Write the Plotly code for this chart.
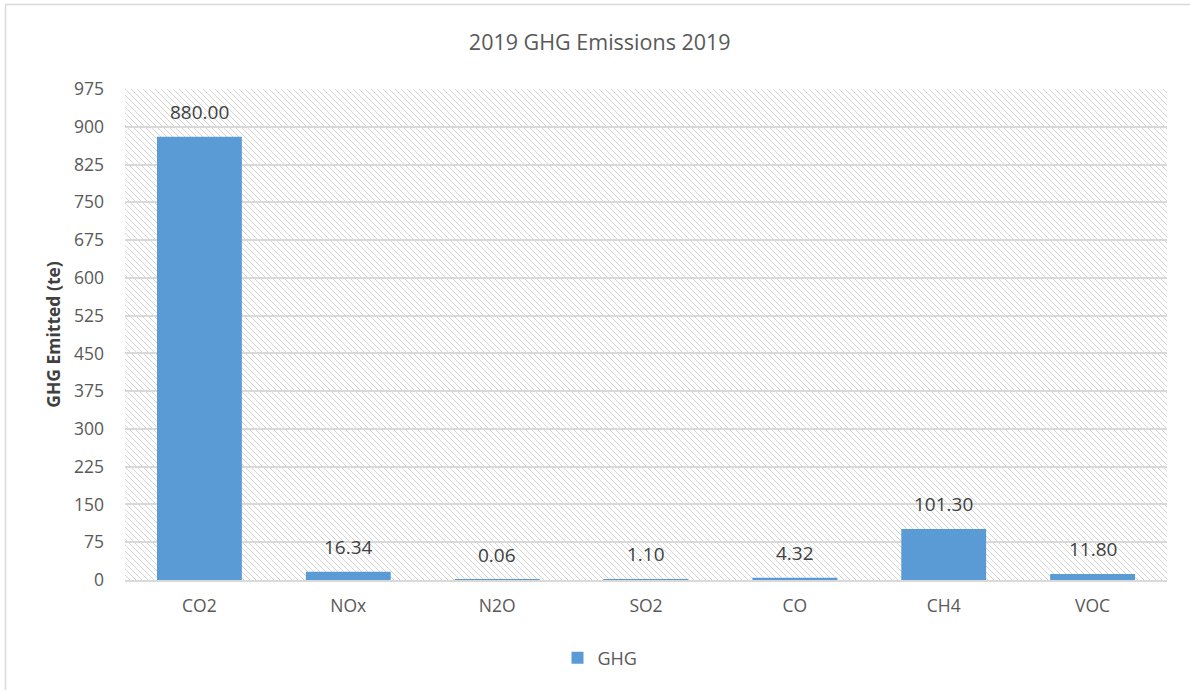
import base64
import plotly.graph_objects as go

categories = ["CO2", "NOx", "N2O", "SO2", "CO", "CH4", "VOC"]
values = [880.00, 16.34, 0.06, 1.10, 4.32, 101.30, 11.80]
tick_vals = [0, 75, 150, 225, 300, 375, 450, 525, 600, 675, 750, 825, 900, 975]

W, H = 1190, 690
L, R, T, B = 125, 23, 89, 110  # plot area margins

# diagonal hatch image for plot background
pw, ph = W - L - R, H - T - B
svg = (
    f'<svg xmlns="http://www.w3.org/2000/svg" width="{pw}" height="{ph}">'
    '<defs><pattern id="p" width="6" height="6" patternUnits="userSpaceOnUse">'
    '<rect width="6" height="6" fill="white"/>'
    '<path d="M-1,-1 L7,7 M-1,5 L1,7 M5,-1 L7,1" stroke="#d6d6d6" stroke-width="1"/>'
    '</pattern></defs>'
    f'<rect width="{pw}" height="{ph}" fill="url(#p)"/></svg>'
)
src = "data:image/svg+xml;base64," + base64.b64encode(svg.encode()).decode()

font = "Open Sans, Liberation Sans, Arial, sans-serif"

fig = go.Figure()
fig.add_trace(go.Bar(
    x=categories, y=values, name="GHG",
    marker=dict(color="#5b9bd5", line=dict(width=0)),
))

# data labels placed above each bar
for c, v in zip(categories, values):
    fig.add_annotation(x=c, y=v, xref="x", yref="y", text=f"{v:.2f}",
                       showarrow=False, yanchor="middle", yshift=25,
                       font=dict(size=19, color="#404040", family=font))

fig.update_layout(
    width=W, height=H,
    margin=dict(l=L, r=R, t=T, b=B),
    paper_bgcolor="white", plot_bgcolor="rgba(0,0,0,0)",
    bargap=0.43,
    title=dict(text="2019 GHG Emissions 2019", x=0.504, xanchor="center",
               y=1 - 42 / H, yanchor="middle",
               font=dict(size=21.5, color="#595959", family=font)),
    showlegend=True,
    legend=dict(orientation="h", x=(600 - L) / pw, xanchor="center",
                y=-(658 - (H - B)) / ph,
                yanchor="middle", font=dict(size=18, color="#595959", family=font),
                itemwidth=30),
    images=[dict(source=src, xref="paper", yref="paper", x=0, y=1, sizex=1, sizey=1,
                 xanchor="left", yanchor="top", sizing="stretch", layer="below")],
    shapes=[dict(type="rect", xref="paper", yref="paper",
                 x0=-(L - 5.5) / pw, x1=(W - L + 10) / pw,
                 y0=-(B + 10) / ph, y1=1 + (T - 4.5) / ph,
                 line=dict(color="#d9d9d9", width=1.5), fillcolor="rgba(0,0,0,0)",
                 layer="below")],
)
fig.update_xaxes(showgrid=False, showline=True, linecolor="#d9d9d9", linewidth=1.5,
                 ticks="", ticklabelstandoff=9, layer="above traces",
                 tickfont=dict(size=17.5, color="#595959", family=font))
fig.update_yaxes(range=[0, 975], tickvals=tick_vals, showgrid=True,
                 gridcolor="#d9d9d9", gridwidth=1.5, zeroline=False,
                 showline=False, ticks="", ticklabelstandoff=20,
                 tickfont=dict(size=17.5, color="#595959", family=font),
                 title=dict(text="<b>GHG Emitted (te)</b>", standoff=8,
                            font=dict(size=17.5, color="#404040", family=font)))

fig.write_html("out.html")
